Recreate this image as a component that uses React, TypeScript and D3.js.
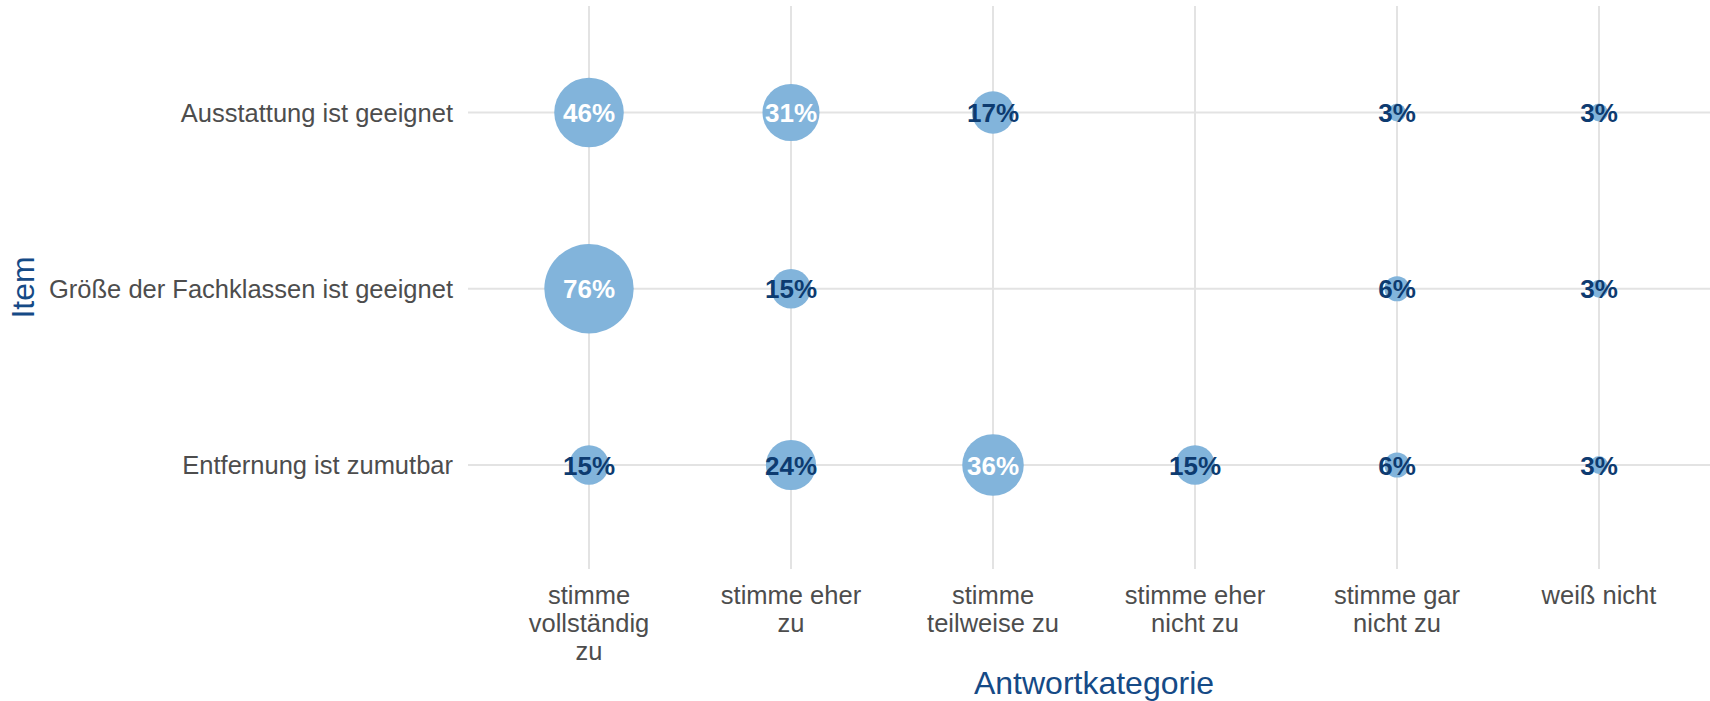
import React from "react";
import * as d3 from "d3";

const categories = [
  "stimme vollständig zu",
  "stimme eher zu",
  "stimme teilweise zu",
  "stimme eher nicht zu",
  "stimme gar nicht zu",
  "weiß nicht",
];
const categoryLines = [
  ["stimme", "vollständig", "zu"],
  ["stimme eher", "zu"],
  ["stimme", "teilweise zu"],
  ["stimme eher", "nicht zu"],
  ["stimme gar", "nicht zu"],
  ["weiß nicht"],
];
const items = [
  "Ausstattung ist geeignet",
  "Größe der Fachklassen ist geeignet",
  "Entfernung ist zumutbar",
];
// values per item, per category (null = no answer)
const ausstattung = [46, 31, 17, null, 3, 3];
const groesse = [76, 15, null, null, 6, 3];
const entfernung = [15, 24, 36, 15, 6, 3];
const seriesValues = [ausstattung, groesse, entfernung];

const W = 1710;
const H = 701;
const FONT = "'Liberation Sans', Arial, sans-serif";

export default function App() {
  const step = 202;
  const x = d3
    .scalePoint<string>()
    .domain(categories)
    .range([589, 589 + step * 5]);
  const y = d3.scalePoint<string>().domain(items).range([112.5, 465]);
  const r = d3.scaleSqrt().domain([0, 76]).range([0, 44.7]);

  const panelTop = 6;
  const panelBottom = 569;
  const panelLeft = 468;

  const points: { item: string; cat: string; v: number }[] = [];
  items.forEach((it, i) => {
    seriesValues[i].forEach((v, j) => {
      if (v != null) points.push({ item: it, cat: categories[j], v });
    });
  });

  return (
    <svg
      width={W}
      height={H}
      style={{ position: "absolute", left: 0, top: 0, background: "#fff" }}
      fontFamily={FONT}
    >
      {/* grid */}
      {categories.map((c) => (
        <line
          key={c}
          x1={x(c)}
          x2={x(c)}
          y1={panelTop}
          y2={panelBottom}
          stroke="#e3e3e3"
          strokeWidth={2}
        />
      ))}
      {items.map((it) => (
        <line
          key={it}
          x1={panelLeft}
          x2={W}
          y1={y(it)}
          y2={y(it)}
          stroke="#e3e3e3"
          strokeWidth={2}
        />
      ))}
      {/* bubbles */}
      {points.map((p, i) => (
        <circle
          key={i}
          cx={x(p.cat)}
          cy={y(p.item)}
          r={r(p.v)}
          fill="#82b4db"
        />
      ))}
      {points.map((p, i) => (
        <text
          key={"t" + i}
          x={x(p.cat)}
          y={(y(p.item) as number) + 9.5}
          textAnchor="middle"
          fontSize={26}
          fontWeight="bold"
          fill={p.v >= 30 ? "#ffffff" : "#0d3b70"}
        >
          {p.v}%
        </text>
      ))}
      {/* y tick labels */}
      {items.map((it) => (
        <text
          key={it}
          x={453}
          y={(y(it) as number) + 9}
          textAnchor="end"
          fontSize={25.5}
          fill="#4d4d4d"
        >
          {it}
        </text>
      ))}
      {/* x tick labels */}
      {categories.map((c, j) => (
        <text
          key={c}
          x={x(c)}
          y={603.5}
          textAnchor="middle"
          fontSize={25.5}
          fill="#4d4d4d"
        >
          {categoryLines[j].map((l, k) => (
            <tspan key={k} x={x(c)} dy={k === 0 ? 0 : 28.3}>
              {l}
            </tspan>
          ))}
        </text>
      ))}
      {/* axis titles */}
      <text
        x={1094}
        y={694}
        textAnchor="middle"
        fontSize={32}
        fill="#154a86"
      >
        Antwortkategorie
      </text>
      <text
        transform={`translate(34,${(panelTop + panelBottom) / 2}) rotate(-90)`}
        textAnchor="middle"
        fontSize={32}
        fill="#154a86"
      >
        Item
      </text>
    </svg>
  );
}
